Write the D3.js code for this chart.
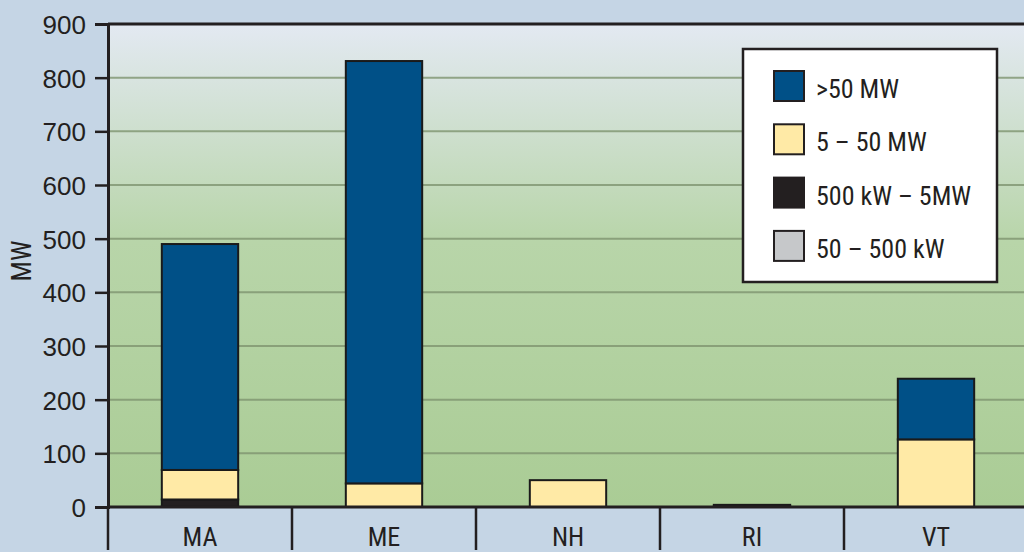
<!DOCTYPE html>
<html>
<head>
<meta charset="utf-8">
<script src="https://cdn.jsdelivr.net/npm/d3@7"></script>
<style>
  body { margin: 0; background: #c5d5e5; }
  svg { display: block; font-family: "Liberation Sans Narrow", "Roboto Condensed", "Liberation Sans", sans-serif; }
</style>
</head>
<body>
<div id="chart"></div>
<script>
const width = 1024
const height = 552
const margin = {top: 24, bottom: 45, left: 108, right: -4}
const netWidth = width - margin.left - margin.right
const netHeight = height - margin.top - margin.bottom

// Data (MW by state and size class)
const states = ["MA", "ME", "NH", "RI", "VT"]
const sizeClasses = ["50 – 500 kW", "500 kW – 5MW", "5 – 50 MW", ">50 MW"]
const kw50to500 = [1, 0, 0, 1, 0]
const kw500to5mw = [13, 0, 0, 3, 0]
const mw5to50 = [55, 44, 50, 0, 126]
const mwOver50 = [421, 787, 0, 0, 113]
const yTicks = [0, 100, 200, 300, 400, 500, 600, 700, 800, 900]
const colors = ["#c6c8ca", "#231f20", "#ffeaa6", "#005087"]

const rows = states.map((s, i) => ({
  state: s,
  [sizeClasses[0]]: kw50to500[i],
  [sizeClasses[1]]: kw500to5mw[i],
  [sizeClasses[2]]: mw5to50[i],
  [sizeClasses[3]]: mwOver50[i]
}))
const stacked = d3.stack().keys(sizeClasses)(rows)

const svg = d3.select("div#chart").append("svg").attr("width", width).attr("height", height)

// Plot background gradient
const defs = svg.append("defs")
const grad = defs.append("linearGradient").attr("id", "bg").attr("x1", 0).attr("y1", 0).attr("x2", 0).attr("y2", 1)
grad.append("stop").attr("offset", "0%").attr("stop-color", "#e3e9f2")
grad.append("stop").attr("offset", "45%").attr("stop-color", "#b8d5a9")
grad.append("stop").attr("offset", "100%").attr("stop-color", "#aacc95")

const g = svg.append("g").attr("transform", `translate(${margin.left}, ${margin.top})`)

const x = d3.scaleBand().domain(states).range([0, netWidth]).paddingInner(0.585).paddingOuter(0.2925)
const xGroup = d3.scaleBand().domain(states).range([0, netWidth])
const y = d3.scaleLinear().domain([0, 900]).range([netHeight, 0])

g.append("rect").attr("width", netWidth).attr("height", netHeight).attr("fill", "url(#bg)")

// Gridlines
g.append("g").selectAll("line")
  .data(yTicks.filter(d => d > 0 && d < 900))
  .enter().append("line")
  .attr("x1", 0).attr("x2", netWidth)
  .attr("y1", d => y(d)).attr("y2", d => y(d))
  .attr("stroke", "#7e936f").attr("stroke-opacity", 0.8).attr("stroke-width", 2)

// Bars
g.append("g").selectAll("g")
  .data(stacked)
  .enter().append("g")
  .attr("fill", (d, i) => colors[i])
  .selectAll("rect")
  .data(d => d.filter(v => v[1] - v[0] > 0))
  .enter().append("rect")
  .attr("x", d => x(d.data.state))
  .attr("y", d => y(d[1]))
  .attr("width", x.bandwidth())
  .attr("height", d => y(d[0]) - y(d[1]))
  .attr("stroke", "#1a1a1a")
  .attr("stroke-width", 2)

// Plot frame (top)
g.append("line").attr("x1", 0).attr("x2", netWidth).attr("y1", 0).attr("y2", 0)
  .attr("stroke", "#231f20").attr("stroke-width", 3)

// Y axis
const yAxis = d3.axisLeft(y).tickValues(yTicks).tickSize(13).tickPadding(9)
const yAxisGroup = g.append("g").call(yAxis)
yAxisGroup.select(".domain").attr("stroke", "#231f20").attr("stroke-width", 3)
yAxisGroup.selectAll(".tick line").attr("stroke", "#231f20").attr("stroke-width", 2.5)
yAxisGroup.selectAll(".tick text").attr("font-size", 26).attr("fill", "#231f20")
  .attr("font-family", "inherit").attr("dy", "0.36em")

// X axis: baseline, separators, labels
const xAxisGroup = g.append("g").attr("transform", `translate(0, ${netHeight})`)
xAxisGroup.append("line").attr("x1", 0).attr("x2", netWidth).attr("stroke", "#231f20").attr("stroke-width", 3)
xAxisGroup.selectAll("line.sep")
  .data(states)
  .enter().append("line").attr("class", "sep")
  .attr("x1", d => xGroup(d)).attr("x2", d => xGroup(d))
  .attr("y1", 0).attr("y2", 43)
  .attr("stroke", "#231f20").attr("stroke-width", 2.5)
xAxisGroup.selectAll("text")
  .data(states)
  .enter().append("text")
  .attr("x", d => xGroup(d) + xGroup.bandwidth() / 2)
  .attr("y", 39)
  .attr("text-anchor", "middle")
  .attr("font-size", 26)
  .attr("fill", "#231f20")
  .text(d => d)

// Y title
svg.append("text")
  .attr("transform", "translate(31, 261) rotate(-90)")
  .attr("text-anchor", "middle")
  .attr("font-size", 27)
  .attr("fill", "#231f20")
  .text("MW")

// Legend
const legend = svg.append("g").attr("transform", "translate(743, 49)")
legend.append("rect").attr("width", 254).attr("height", 233)
  .attr("fill", "#ffffff").attr("stroke", "#231f20").attr("stroke-width", 2.5)
const legendKeys = sizeClasses.slice().reverse()
const legendItems = legend.selectAll("g.item")
  .data(legendKeys)
  .enter().append("g").attr("class", "item")
  .attr("transform", (d, i) => `translate(31, ${22 + i * 53.3})`)
legendItems.append("rect")
  .attr("width", 30).attr("height", 30)
  .attr("fill", d => colors[sizeClasses.indexOf(d)])
  .attr("stroke", "#231f20").attr("stroke-width", 2)
legendItems.append("text")
  .attr("x", 42).attr("y", 27)
  .attr("font-size", 26)
  .attr("fill", "#231f20")
  .text(d => d)
</script>
</body>
</html>
